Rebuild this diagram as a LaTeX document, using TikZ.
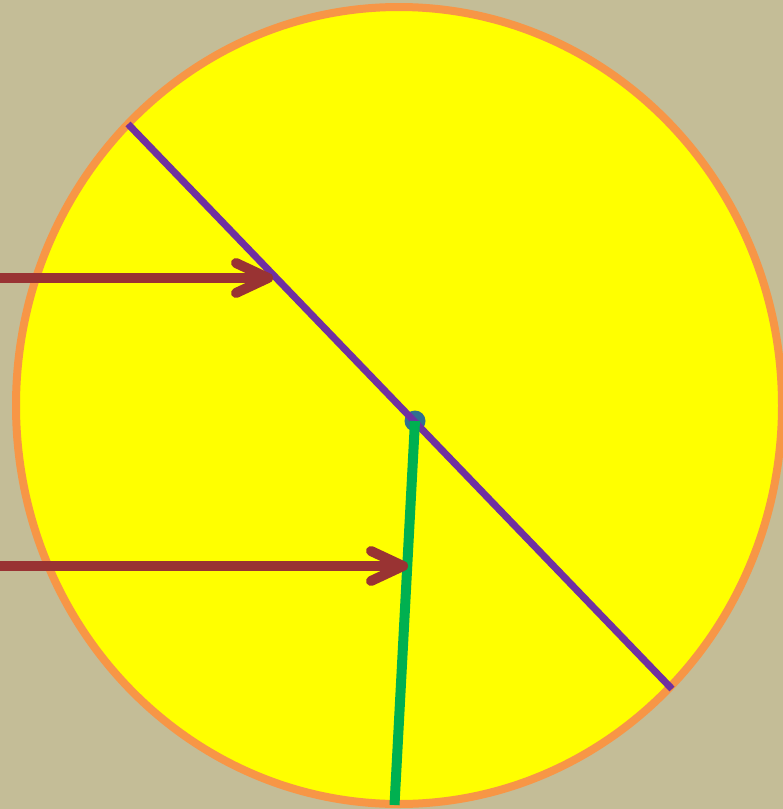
\documentclass[tikz,border=0pt]{standalone}
\usetikzlibrary{calc}
\definecolor{bg}{HTML}{C4BD97}
\definecolor{sunfill}{HTML}{FFFF00}
\definecolor{sunedge}{HTML}{F79646}
\definecolor{purp}{HTML}{7030A0}
\definecolor{grn}{HTML}{00B050}
\definecolor{brn}{HTML}{993333}
\definecolor{dotc}{HTML}{31708F}
\tikzset{
  pointer/.style={draw=brn, line width=10pt, line cap=round, line join=round},
}
\begin{document}
\begin{tikzpicture}[x=1pt,y=-1pt]
\fill[bg] (0,0) rectangle (783,809);
\useasboundingbox (0,0) rectangle (783,809);
\draw[fill=sunfill, draw=sunedge, line width=8pt] (399,405.5) ellipse [x radius=383, y radius=398.5];
\coordinate (center) at (415,421);
\coordinate (pa) at (128,124);
\coordinate (pb) at (672,689);
\coordinate (gb) at (394.5,805);
\fill[dotc] (center) circle (10.5);
\draw[purp, line width=7pt] (pa) -- (pb);
\draw[grn, line width=10pt] (center) -- (gb);
% arrows
\coordinate (a1s) at (-10,278);
\coordinate (a1t) at (268,278);
\coordinate (a2s) at (-10,566);
\coordinate (a2t) at (403,566);
\draw[pointer] (a1s) -- (a1t);
\draw[pointer] ($(a1t)+(-32,-15)$) -- (a1t) -- ($(a1t)+(-32,15)$);
\draw[pointer] (a2s) -- (a2t);
\draw[pointer] ($(a2t)+(-32,-15)$) -- (a2t) -- ($(a2t)+(-32,15)$);
\end{tikzpicture}
\end{document}
